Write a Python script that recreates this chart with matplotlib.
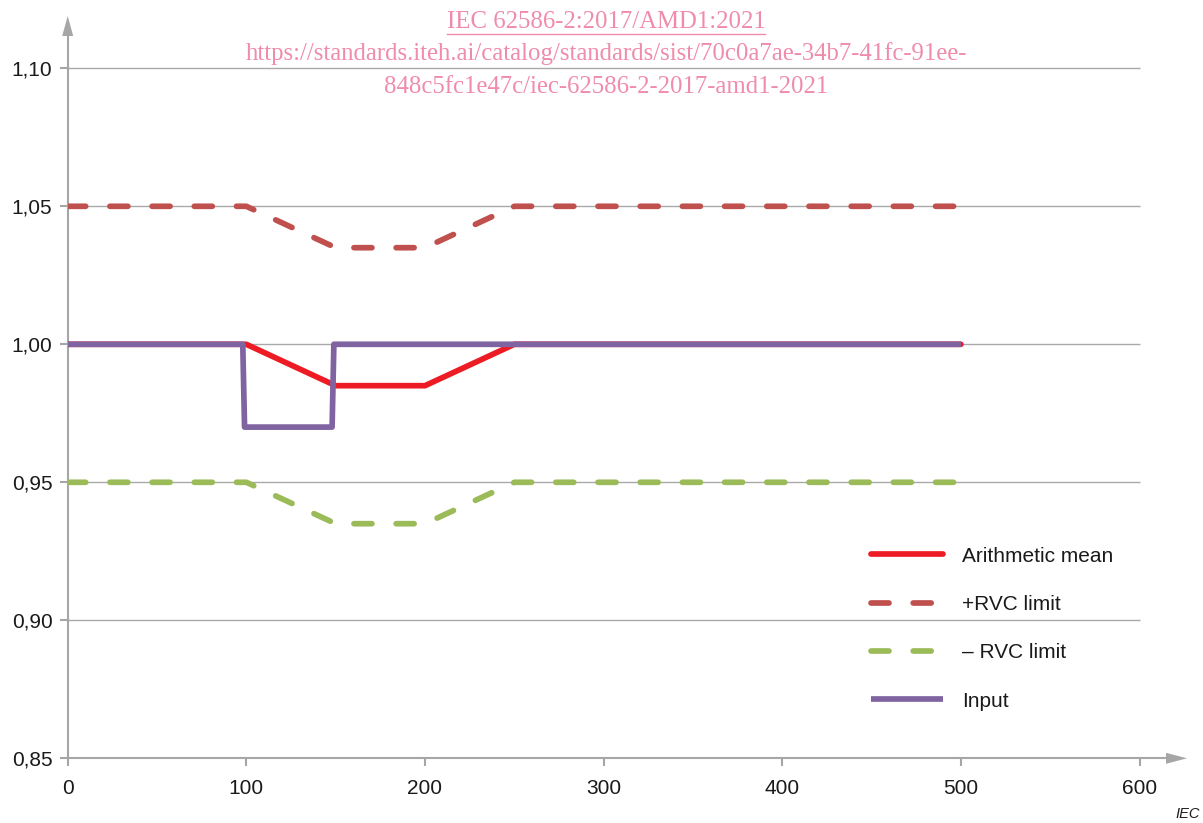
import matplotlib
matplotlib.use("Agg")
import matplotlib.pyplot as plt
from matplotlib.patches import Polygon
from matplotlib.lines import Line2D

# ---- data ----
mean_x = [0, 100, 150, 200, 250, 500]
mean_y = [1.000, 1.000, 0.985, 0.985, 1.000, 1.000]

upper_x = [0, 100, 150, 200, 250, 500]
upper_y = [1.050, 1.050, 1.035, 1.035, 1.050, 1.050]

lower_x = [0, 100, 150, 200, 250, 500]
lower_y = [0.950, 0.950, 0.935, 0.935, 0.950, 0.950]

input_x = [0, 98, 99, 148, 149, 500]
input_y = [1.000, 1.000, 0.970, 0.970, 1.000, 1.000]

x_ticks = [0, 100, 200, 300, 400, 500, 600]
y_ticks = [0.85, 0.90, 0.95, 1.00, 1.05, 1.10]
y_tick_labels = ["0,85", "0,90", "0,95", "1,00", "1,05", "1,10"]

labels = ["Arithmetic mean", "+RVC limit", "\u2013 RVC limit", "Input"]

title_lines = [
    "IEC 62586-2:2017/AMD1:2021",
    "https://standards.iteh.ai/catalog/standards/sist/70c0a7ae-34b7-41fc-91ee-",
    "848c5fc1e47c/iec-62586-2-2017-amd1-2021",
]

# ---- styling ----
RED = "#ed1c24"
DRED = "#c0504d"
GREEN = "#9bbb59"
PURPLE = "#8064a2"
AXIS_GRAY = "#a6a6a6"
GRID_GRAY = "#a9a9a9"
PINK = "#f08cab"
LW = 4.1
DASH = (3.16, 4.25)

plt.rcParams["font.family"] = ["Liberation Sans", "DejaVu Sans"]

W, H = 1203, 823
fig = plt.figure(figsize=(W / 100, H / 100), dpi=100)

x0_px, x1_px = 67.7, 1166.0
y0_px, y1_px = 758.3, 36.0
ax = fig.add_axes([x0_px / W, 1 - y0_px / H,
                   (x1_px - x0_px) / W, (y0_px - y1_px) / H])

ax.set_xlim(0, 614.8)
ax.set_ylim(0.85, 1.1117)

# horizontal grid, stopping at x = 600
for yv in y_ticks[1:]:
    ax.hlines(yv, 0, 600, color=GRID_GRAY, lw=1.0, zorder=1)

l_up, = ax.plot(upper_x, upper_y, color=DRED, lw=LW, dashes=DASH,
                dash_capstyle="round", zorder=3, label=labels[1])
l_lo, = ax.plot(lower_x, lower_y, color=GREEN, lw=LW, dashes=DASH,
                dash_capstyle="round", zorder=3, label=labels[2])
l_mean, = ax.plot(mean_x, mean_y, color=RED, lw=LW, solid_capstyle="round",
                  solid_joinstyle="round", zorder=4, label=labels[0])
l_in, = ax.plot(input_x, input_y, color=PURPLE, lw=LW, solid_capstyle="butt",
                solid_joinstyle="round", zorder=5, label=labels[3])

# spines
for s in ["top", "right"]:
    ax.spines[s].set_visible(False)
for s in ["left", "bottom"]:
    ax.spines[s].set_color(AXIS_GRAY)
    ax.spines[s].set_linewidth(1.5)
    ax.spines[s].set_zorder(2)

ax.set_xticks(x_ticks)
ax.set_xticklabels([str(v) for v in x_ticks])
ax.set_yticks(y_ticks)
ax.set_yticklabels(y_tick_labels)
ax.tick_params(axis="both", colors=AXIS_GRAY, labelcolor="#1a1a1a",
               labelsize=15, length=6, width=1.5, direction="out")
ax.tick_params(axis="x", pad=9)
ax.tick_params(axis="y", pad=5)

# arrow heads on the axes
fx = lambda px: px / W
fy = lambda py: 1 - py / H
fig.add_artist(Polygon([(fx(1166), fy(758.3 - 5.5)), (fx(1166), fy(758.3 + 5.5)),
                        (fx(1187), fy(758.3))], closed=True,
                       transform=fig.transFigure, color=AXIS_GRAY, lw=0))
fig.add_artist(Polygon([(fx(67.7 - 5.5), fy(36)), (fx(67.7 + 5.5), fy(36)),
                        (fx(67.7), fy(16))], closed=True,
                       transform=fig.transFigure, color=AXIS_GRAY, lw=0))

# legend
handles = [l_mean, l_up, l_lo, l_in]
leg = ax.legend(handles, labels, loc="upper left",
                bbox_to_anchor=(fx(871), fy(546.5)), bbox_transform=fig.transFigure,
                frameon=False, fontsize=15, handlelength=3.45, handletextpad=0.92,
                labelspacing=1.41, borderpad=0, borderaxespad=0)
for t in leg.get_texts():
    t.set_color("#1a1a1a")

# header text
ys = [22, 54, 87]
for i, (line, yp) in enumerate(zip(title_lines, ys)):
    t = fig.text(fx(606), fy(yp), line, ha="center", va="center",
                 color=PINK, fontsize=17.8, family=["Liberation Serif", "DejaVu Serif"])
fig.canvas.draw()
bb = fig.texts[0].get_window_extent()
fig.add_artist(Line2D([bb.x0 / W, bb.x1 / W], [fy(33.5), fy(33.5)],
                      transform=fig.transFigure, color=PINK, lw=1.0))

fig.text(fx(1200), fy(814), "IEC", ha="right", va="center",
         fontsize=10.5, style="italic", color="#1a1a1a")

fig.savefig("out.png", dpi=100)
